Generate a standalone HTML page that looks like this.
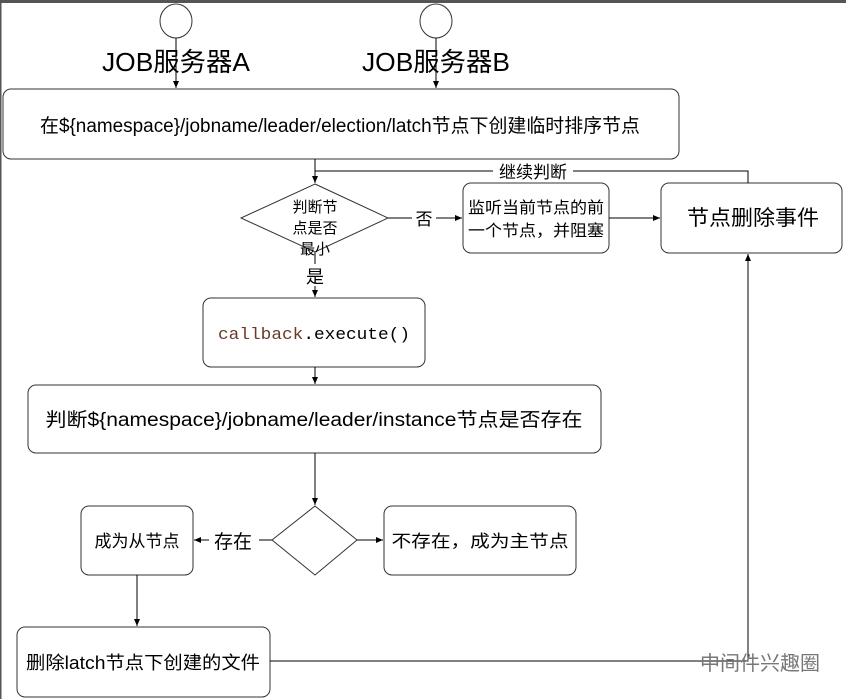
<!DOCTYPE html>
<html><head><meta charset="utf-8"><style>
body{margin:0;background:#fff;}
svg{display:block;font-family:"Liberation Sans","Noto Sans CJK SC",sans-serif;}
</style></head><body>
<svg width="846" height="699" viewBox="0 0 846 699" xmlns="http://www.w3.org/2000/svg">
<defs><marker id="a" markerWidth="8" markerHeight="8" refX="7" refY="4" orient="auto" markerUnits="userSpaceOnUse"><path d="M0,1 L7,4 L0,7 z" fill="#000"/></marker></defs>
<rect x="0" y="0" width="846" height="3" fill="#555"/>
<rect x="0" y="0" width="1.5" height="699" fill="#555"/>
<g fill="#fff" stroke="#333" stroke-width="1">
<ellipse cx="176" cy="21" rx="16" ry="17"/>
<ellipse cx="436" cy="21" rx="16" ry="17"/>
<rect x="3" y="89" width="676" height="70" rx="8"/>
<rect x="463" y="183" width="146" height="70" rx="8"/>
<rect x="661" y="183" width="181" height="70" rx="8"/>
<polygon points="315,184 388,218 315,252 241,218"/>
<rect x="203" y="298" width="222" height="69" rx="8"/>
<rect x="28" y="385" width="573" height="68" rx="8"/>
<polygon points="315,506 357,540 315,575 272,540"/>
<rect x="81" y="506" width="112" height="69" rx="8"/>
<rect x="384" y="506" width="192" height="69" rx="8"/>
<rect x="17" y="627" width="253" height="70" rx="8"/>
</g>
<g stroke="#000" stroke-width="1" fill="none">
<line x1="176" y1="38" x2="176" y2="88" marker-end="url(#a)"/>
<line x1="436" y1="38" x2="436" y2="88" marker-end="url(#a)"/>
<line x1="315" y1="159" x2="315" y2="183" marker-end="url(#a)"/>
<path d="M748,183 V171 H315 V183"/>
<line x1="388" y1="218" x2="462" y2="218" marker-end="url(#a)"/>
<line x1="609" y1="218" x2="660" y2="218" marker-end="url(#a)"/>
<line x1="315" y1="252" x2="315" y2="297" marker-end="url(#a)"/>
<line x1="315" y1="367" x2="315" y2="384" marker-end="url(#a)"/>
<line x1="315" y1="453" x2="315" y2="505" marker-end="url(#a)"/>
<line x1="272" y1="540" x2="194" y2="540" marker-end="url(#a)"/>
<line x1="357" y1="540" x2="383" y2="540" marker-end="url(#a)"/>
<line x1="137" y1="575" x2="137" y2="626" marker-end="url(#a)"/>
<path d="M270,661 H748 V254" marker-end="url(#a)"/>
</g>
<g fill="#000" text-anchor="middle">
<text x="176" y="71" font-size="26" textLength="148" lengthAdjust="spacingAndGlyphs">JOB服务器A</text>
<text x="436" y="71" font-size="26" textLength="148" lengthAdjust="spacingAndGlyphs">JOB服务器B</text>
<text x="340" y="132" font-size="19" textLength="600" lengthAdjust="spacingAndGlyphs">在${namespace}/jobname/leader/election/latch节点下创建临时排序节点</text>
<rect x="493" y="161" width="80" height="20" fill="#fff"/>
<text x="533" y="178" font-size="17">继续判断</text>
<text x="315" y="212" font-size="15">判断节</text>
<text x="315" y="233" font-size="15">点是否</text>
<text x="315" y="254" font-size="15">最小</text>
<rect x="412" y="208" width="24" height="20" fill="#fff"/>
<text x="424" y="225" font-size="17">否</text>
<rect x="303" y="264" width="24" height="22" fill="#fff"/>
<text x="315" y="283" font-size="18">是</text>
<text x="536" y="213" font-size="16" textLength="136" lengthAdjust="spacingAndGlyphs">监听当前节点的前</text>
<text x="536" y="236" font-size="16" textLength="136" lengthAdjust="spacingAndGlyphs">一个节点，并阻塞</text>
<text x="753" y="225" font-size="21" textLength="132" lengthAdjust="spacingAndGlyphs">节点删除事件</text>
<text x="314" y="339" font-size="17" font-family="Liberation Mono, monospace" textLength="192" lengthAdjust="spacingAndGlyphs"><tspan fill="#6a3a2a">callback</tspan>.execute()</text>
<text x="314" y="426" font-size="19" textLength="537" lengthAdjust="spacingAndGlyphs">判断${namespace}/jobname/leader/instance节点是否存在</text>
<text x="137" y="547" font-size="17">成为从节点</text>
<rect x="209" y="529" width="50" height="22" fill="#fff"/>
<text x="233" y="548" font-size="19">存在</text>
<text x="480" y="547" font-size="17" textLength="177" lengthAdjust="spacingAndGlyphs">不存在，成为主节点</text>
<text x="143" y="669" font-size="18" textLength="234" lengthAdjust="spacingAndGlyphs">删除latch节点下创建的文件</text>
<text x="760" y="670" font-size="20" fill="#777">中间件兴趣圈</text>
</g>
</svg>
</body></html>
